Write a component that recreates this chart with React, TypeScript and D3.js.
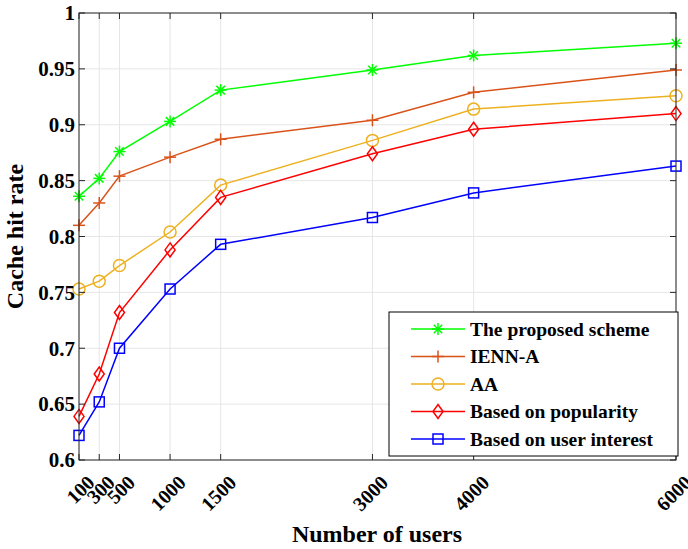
import { useEffect, useRef } from 'react';
import * as d3 from 'd3';

const users = [100, 300, 500, 1000, 1500, 3000, 4000, 6000];
const yTicks = [0.6, 0.65, 0.7, 0.75, 0.8, 0.85, 0.9, 0.95, 1];

const proposed = [0.836, 0.852, 0.876, 0.903, 0.931, 0.949, 0.962, 0.973];
const iennA = [0.81, 0.83, 0.854, 0.871, 0.887, 0.904, 0.929, 0.949];
const aa = [0.753, 0.76, 0.774, 0.804, 0.846, 0.886, 0.914, 0.926];
const popularity = [0.639, 0.677, 0.732, 0.788, 0.835, 0.874, 0.896, 0.91];
const userInterest = [0.622, 0.652, 0.7, 0.753, 0.793, 0.817, 0.839, 0.863];

const seriesNames = ['The proposed scheme', 'IENN-A', 'AA', 'Based on popularity', 'Based on user interest'];
const seriesValues = [proposed, iennA, aa, popularity, userInterest];
const seriesColors = ['#00ff00', '#d95319', '#edb120', '#ff0000', '#0000ff'];
const seriesMarkers = ['asterisk', 'plus', 'circle', 'diamond', 'square'];

const drawMarker = (g: any, type: string, cx: number, cy: number, color: string) => {
  if (type === 'asterisk') {
    const r = 6;
    [0, 45, 90, 135].forEach(a => {
      const rad = (a * Math.PI) / 180;
      g.append('line')
        .attr('x1', cx - r * Math.cos(rad)).attr('y1', cy - r * Math.sin(rad))
        .attr('x2', cx + r * Math.cos(rad)).attr('y2', cy + r * Math.sin(rad))
        .attr('stroke', color).attr('stroke-width', 1.5);
    });
  } else if (type === 'plus') {
    const r = 6;
    g.append('line').attr('x1', cx - r).attr('x2', cx + r).attr('y1', cy).attr('y2', cy)
      .attr('stroke', color).attr('stroke-width', 1.5);
    g.append('line').attr('x1', cx).attr('x2', cx).attr('y1', cy - r).attr('y2', cy + r)
      .attr('stroke', color).attr('stroke-width', 1.5);
  } else if (type === 'circle') {
    g.append('circle').attr('cx', cx).attr('cy', cy).attr('r', 6)
      .attr('fill', 'none').attr('stroke', color).attr('stroke-width', 1.5);
  } else if (type === 'diamond') {
    const r = 7;
    g.append('path')
      .attr('d', `M${cx},${cy - r}L${cx + r * 0.72},${cy}L${cx},${cy + r}L${cx - r * 0.72},${cy}Z`)
      .attr('fill', 'none').attr('stroke', color).attr('stroke-width', 1.5);
  } else {
    const r = 5;
    g.append('rect').attr('x', cx - r).attr('y', cy - r).attr('width', 2 * r).attr('height', 2 * r)
      .attr('fill', 'none').attr('stroke', color).attr('stroke-width', 1.5);
  }
};

const App = () => {
  const svgRef = useRef(null);

  useEffect(() => {
    const w = 688;
    const h = 549;
    const margin = { top: 13, left: 79, right: 12, bottom: 89 };
    const svg = d3.select(svgRef.current);
    svg.selectAll('*').remove();
    svg.attr('width', w).attr('height', h)
      .style('font-family', '"Liberation Serif", "Times New Roman", serif');

    const x = d3.scaleLinear().domain([100, 6000]).range([margin.left, w - margin.right]);
    const y = d3.scaleLinear().domain([0.6, 1]).range([h - margin.bottom, margin.top]);

    const x0 = x(100), x1 = x(6000), y0 = y(0.6), y1 = y(1);

    svg.append('rect').attr('x', x0).attr('y', y1).attr('width', x1 - x0).attr('height', y0 - y1)
      .attr('fill', 'white');

    // grid
    const grid = svg.append('g').attr('stroke', '#e6e6e6').attr('stroke-width', 1);
    users.forEach(u => {
      grid.append('line').attr('x1', x(u)).attr('x2', x(u)).attr('y1', y1).attr('y2', y0);
    });
    yTicks.forEach(t => {
      grid.append('line').attr('x1', x0).attr('x2', x1).attr('y1', y(t)).attr('y2', y(t));
    });

    // lines and markers
    seriesValues.forEach((vals, i) => {
      const line = d3.line<number>().x((d, j) => x(users[j])).y(d => y(d));
      svg.append('path').datum(vals).attr('d', line)
        .attr('fill', 'none').attr('stroke', seriesColors[i]).attr('stroke-width', 1.5);
      const mg = svg.append('g');
      vals.forEach((v, j) => drawMarker(mg, seriesMarkers[i], x(users[j]), y(v), seriesColors[i]));
    });

    // box and ticks
    const axisColor = '#262626';
    svg.append('rect').attr('x', x0).attr('y', y1).attr('width', x1 - x0).attr('height', y0 - y1)
      .attr('fill', 'none').attr('stroke', axisColor).attr('stroke-width', 1);
    const tk = svg.append('g').attr('stroke', axisColor).attr('stroke-width', 1);
    yTicks.forEach(t => {
      tk.append('line').attr('x1', x0).attr('x2', x0 + 6).attr('y1', y(t)).attr('y2', y(t));
      tk.append('line').attr('x1', x1).attr('x2', x1 - 6).attr('y1', y(t)).attr('y2', y(t));
    });
    users.forEach(u => {
      tk.append('line').attr('x1', x(u)).attr('x2', x(u)).attr('y1', y0).attr('y2', y0 - 6);
      tk.append('line').attr('x1', x(u)).attr('x2', x(u)).attr('y1', y1).attr('y2', y1 + 6);
    });

    // tick labels
    svg.append('g').selectAll('text').data(yTicks).enter().append('text')
      .attr('x', x0 - 4).attr('y', d => y(d)).attr('dy', '0.35em')
      .attr('text-anchor', 'end').style('font-size', '21px').style('font-weight', 'bold')
      .text(d => (d === 1 ? '1' : d === 0.6 ? '0.6' : String(d)));

    svg.append('g').selectAll('text').data(users).enter().append('text')
      .attr('transform', d => `translate(${x(d) + 7},${y0 + 14}) rotate(-45)`)
      .attr('text-anchor', 'end').attr('dy', '0.7em')
      .style('font-size', '20px').style('font-weight', 'bold')
      .text(d => d);

    // axis labels
    svg.append('text')
      .attr('transform', `translate(15,${(y0 + y1) / 2}) rotate(-90)`)
      .attr('text-anchor', 'middle').attr('dy', '0.35em')
      .style('font-size', '24px').style('font-weight', 'bold')
      .text('Cache hit rate');
    svg.append('text')
      .attr('x', 377).attr('y', 542).attr('text-anchor', 'middle')
      .style('font-size', '24px').style('font-weight', 'bold')
      .text('Number of users');

    // legend
    const lg = svg.append('g');
    lg.append('rect').attr('x', 389).attr('y', 312).attr('width', 289).attr('height', 144)
      .attr('fill', 'white').attr('stroke', '#000').attr('stroke-width', 1);
    seriesNames.forEach((name, i) => {
      const ly = 329 + i * 27.5;
      lg.append('line').attr('x1', 411).attr('x2', 465).attr('y1', ly).attr('y2', ly)
        .attr('stroke', seriesColors[i]).attr('stroke-width', 1.5);
      drawMarker(lg, seriesMarkers[i], 438, ly, seriesColors[i]);
      lg.append('text').attr('x', 470).attr('y', ly).attr('dy', '0.35em')
        .style('font-size', '19.5px').style('font-weight', 'bold')
        .text(name);
    });
  }, []);

  return <svg ref={svgRef} style={{ position: 'absolute', left: 0, top: 0 }}></svg>;
};

export default App;
